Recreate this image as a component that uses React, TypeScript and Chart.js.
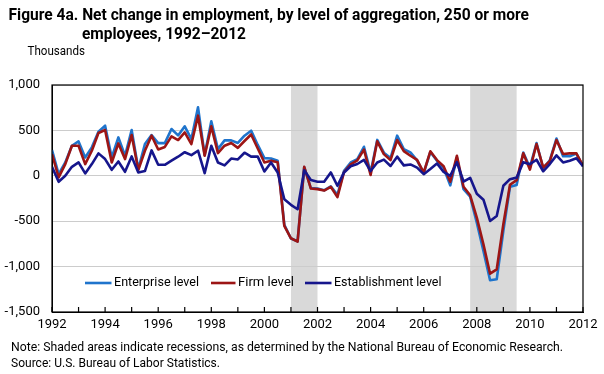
import React, { useEffect, useRef } from 'react';
import { Chart, registerables } from 'chart.js';

Chart.register(...registerables);

// Quarterly net change in employment (thousands), 1992Q1 – 2012Q1
const startYear = 1992;
const enterprise = [
  283, 18, 147, 331, 379, 202, 313, 486, 552, 202, 423, 221, 504, 74, 350, 449,
  360, 360, 515, 445, 545, 405, 754, 228, 600, 294, 390, 390, 362, 442, 497, 340,
  195, 191, 166, -540, -690, -720, 95, -135, -140, -160, -115, -210, 55, 147,
  184, 320, 37, 395, 255, 195, 442, 294, 258, 170, 30, 262, 165, 85, -105, 200,
  -147, -230, -515, -828, -1150, -1140, -607, -121, -100, 255, 92, 360, 83, 170,
  410, 215, 215, 245, 105,
];
const firm = [
  239, -18, 129, 331, 331, 129, 276, 471, 504, 147, 357, 184, 449, 63, 276, 442,
  290, 318, 434, 394, 478, 350, 662, 221, 545, 250, 331, 362, 308, 383, 455, 300,
  147, 166, 150, -552, -688, -725, 99, -140, -147, -162, -121, -235, 42, 125,
  170, 288, 9, 380, 239, 173, 394, 272, 221, 175, 35, 270, 173, 105, -65, 221,
  -120, -215, -460, -754, -1078, -1030, -534, -99, -48, 248, 68, 350, 92, 162,
  394, 240, 247, 247, 110,
];
const establishment = [
  99, -66, 0, 99, 147, 26, 129, 247, 184, 66, 158, 44, 213, 37, 52, 280,
  121, 121, 166, 210, 260, 228, 276, 29, 331, 147, 115, 190, 180, 254, 211, 211,
  48, 147, 37, -258, -320, -368, 60, -46, -65, -65, 37, -110, 37, 105,
  130, 175, 52, 147, 178, 108, 211, 115, 125, 90, 18, 75, 135, 42, 0, 150,
  -63, -22, -198, -263, -497, -442, -110, -37, -20, 150, 128, 177, 50, 129,
  225, 147, 166, 193, 105,
];
const recessions: [number, number][] = [
  [2001, 2002],
  [2007.75, 2009.5],
];
const xLabelYears = [1992, 1994, 1996, 1998, 2000, 2002, 2004, 2006, 2008, 2010, 2012];
const seriesLabels = ['Enterprise level', 'Firm level', 'Establishment level'];
const seriesColors = ['#1f74cc', '#9c1515', '#16168c'];
const titleLines = [
  'Figure 4a. Net change in employment, by level of aggregation, 250 or more',
  'employees, 1992\u20132012',
];
const unitLabel = 'Thousands';
const noteLines = [
  'Note: Shaded areas indicate recessions, as determined by the National Bureau of Economic Research.',
  'Source: U.S. Bureau of Labor Statistics.',
];

const toPoints = (arr: number[]) => arr.map((y, i) => ({ x: startYear + i / 4, y }));

const FONT = 'Roboto, "Noto Sans", sans-serif';

function fitText(
  ctx: CanvasRenderingContext2D,
  text: string,
  x: number,
  y: number,
  width: number,
  font: string
) {
  ctx.save();
  ctx.font = font;
  ctx.textBaseline = 'middle';
  ctx.textAlign = 'left';
  ctx.fillStyle = '#000';
  const w = ctx.measureText(text).width;
  ctx.translate(x, y);
  ctx.scale(width / w, 1);
  ctx.fillText(text, 0, 0);
  ctx.restore();
}

const decorPlugin = {
  id: 'decor',
  beforeDraw(chart: any) {
    const { ctx, chartArea } = chart;
    const xs = chart.scales.x;
    ctx.save();
    ctx.fillStyle = '#ffffff';
    ctx.fillRect(0, 0, chart.width, chart.height);
    ctx.fillStyle = '#d9d9d9';
    recessions.forEach(([a, b]) => {
      const x1 = xs.getPixelForValue(a);
      const x2 = xs.getPixelForValue(b);
      ctx.fillRect(x1, chartArea.top, x2 - x1, chartArea.bottom - chartArea.top);
    });
    ctx.restore();
  },
  afterDraw(chart: any) {
    const { ctx, chartArea } = chart;
    const xs = chart.scales.x;
    ctx.save();
    // frame
    ctx.strokeStyle = '#000';
    ctx.lineWidth = 1.2;
    ctx.strokeRect(chartArea.left, chartArea.top, chartArea.right - chartArea.left, chartArea.bottom - chartArea.top);
    // inward tick marks on x axis
    xs.ticks.forEach((t: any) => {
      const px = xs.getPixelForValue(t.value);
      ctx.beginPath();
      ctx.moveTo(px, chartArea.bottom);
      ctx.lineTo(px, chartArea.bottom - 5);
      ctx.stroke();
    });
    ctx.restore();

    // titles
    fitText(ctx, titleLines[0], 8.5, 16, 520.5, `bold 16px ${FONT}`);
    fitText(ctx, titleLines[1], 82, 35, 164, `bold 16px ${FONT}`);
    fitText(ctx, unitLabel, 27.5, 52, 57.5, `13.5px ${FONT}`);

    // legend
    const legend = [
      { lx: 85, lw: 26.5, tx: 114, tw: 85 },
      { lx: 211, lw: 24.5, tx: 238, tw: 56 },
      { lx: 305, lw: 26.5, tx: 334, tw: 107.5 },
    ];
    const ly = 283;
    legend.forEach((l, i) => {
      ctx.save();
      ctx.strokeStyle = seriesColors[i];
      ctx.lineWidth = 2.6;
      ctx.beginPath();
      ctx.moveTo(l.lx, ly);
      ctx.lineTo(l.lx + l.lw, ly);
      ctx.stroke();
      ctx.restore();
      fitText(ctx, seriesLabels[i], l.tx, ly, l.tw, `13.5px ${FONT}`);
    });

    // notes
    fitText(ctx, noteLines[0], 11, 348, 552, `13.5px ${FONT}`);
    fitText(ctx, noteLines[1], 11, 363.5, 209, `13.5px ${FONT}`);
  },
};

export default function App() {
  const ref = useRef<HTMLCanvasElement | null>(null);

  useEffect(() => {
    if (!ref.current) return;
    const datasets = [enterprise, firm, establishment].map((arr, i) => ({
      label: seriesLabels[i],
      data: toPoints(arr),
      borderColor: seriesColors[i],
      backgroundColor: seriesColors[i],
      borderWidth: 2.6,
      pointRadius: 0,
      tension: 0,
      borderJoinStyle: 'round' as const,
      order: 3 - i,
    }));
    const chart = new Chart(ref.current, {
      type: 'line',
      data: { datasets },
      options: {
        animation: false,
        responsive: false,
        maintainAspectRatio: false,
        devicePixelRatio: 1,
        layout: { padding: { top: 85, right: 21, left: 0, bottom: 0 } },
        plugins: { legend: { display: false }, tooltip: { enabled: false }, title: { display: false } },
        scales: {
          x: {
            type: 'linear',
            min: 1992,
            max: 2012,
            afterFit(scale: any) {
              scale.height = 62;
            },
            grid: { display: false, drawTicks: false },
            border: { display: true, color: '#000', width: 1 },
            ticks: {
              stepSize: 1,
              autoSkip: false,
              maxRotation: 0,
              padding: 5,
              color: '#000',
              font: { family: FONT, size: 13 },
              callback: (v: any) => (xLabelYears.includes(Number(v)) ? String(v) : ''),
            },
          },
          y: {
            min: -1500,
            max: 1000,
            afterFit(scale: any) {
              scale.width = 52;
            },
            grid: { color: '#cccccc', lineWidth: 1, drawTicks: false },
            border: { display: true, color: '#000', width: 1 },
            ticks: {
              stepSize: 500,
              padding: 12,
              color: '#000',
              font: { family: FONT, size: 13 },
              callback: (v: any) => Number(v).toLocaleString('en-US'),
            },
          },
        },
      },
      plugins: [decorPlugin],
    });
    return () => chart.destroy();
  }, []);

  return (
    <div style={{ position: 'absolute', left: 0, top: 0, width: 604, height: 374 }}>
      <canvas ref={ref} width={604} height={374} style={{ width: 604, height: 374, display: 'block' }} />
    </div>
  );
}
